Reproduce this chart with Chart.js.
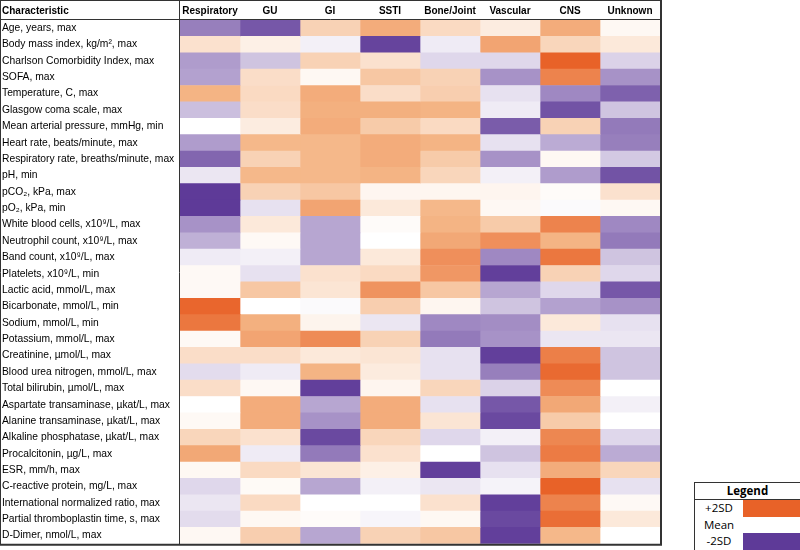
<!DOCTYPE html>
<html>
<head>
<meta charset="utf-8">
<script src="https://cdn.jsdelivr.net/npm/chart.js@4.4.1/dist/chart.umd.min.js"></script>
<style>
  body { margin: 0; background: #fff; }
  #wrap { position: relative; width: 800px; height: 550px; }
  #legendBox {
    position: absolute; left: 694px; top: 482px; width: 105px;
    border: 1px solid #333; background: #fff;
    font: 11.5px 'Open Sans', 'Liberation Sans', Arial, sans-serif; color: #000;
  }
  #legendBox .title { height: 16px; line-height: 16px; text-align: center; font-weight: bold; border-bottom: 1px solid #333; }
  #legendBox .row { display: flex; height: 16.5px; line-height: 16.5px; }
  #legendBox .lbl { width: 48px; text-align: center; }
  #legendBox .sw { flex: 1; }
</style>
</head>
<body>
<div id="wrap">
  <canvas id="heat" width="800" height="550"></canvas>
  <div id="legendBox">
    <div class="title">Legend</div>
    <div class="row"><div class="lbl">+2SD</div><div class="sw" id="swPlus"></div></div>
    <div class="row"><div class="lbl">Mean</div><div class="sw" id="swMean"></div></div>
    <div class="row"><div class="lbl">-2SD</div><div class="sw" id="swMinus"></div></div>
  </div>
</div>
<script>
const characteristics = [
  "Age, years, max",
  "Body mass index, kg/m², max",
  "Charlson Comorbidity Index, max",
  "SOFA, max",
  "Temperature, C, max",
  "Glasgow coma scale, max",
  "Mean arterial pressure, mmHg, min",
  "Heart rate, beats/minute, max",
  "Respiratory rate, breaths/minute, max",
  "pH, min",
  "pCO₂, kPa, max",
  "pO₂, kPa, min",
  "White blood cells, x10⁹/L, max",
  "Neutrophil count, x10⁹/L, max",
  "Band count, x10⁹/L, max",
  "Platelets, x10⁹/L, min",
  "Lactic acid, mmol/L, max",
  "Bicarbonate, mmol/L, min",
  "Sodium, mmol/L, min",
  "Potassium, mmol/L, max",
  "Creatinine, µmol/L, max",
  "Blood urea nitrogen, mmol/L, max",
  "Total bilirubin, µmol/L, max",
  "Aspartate transaminase, µkat/L, max",
  "Alanine transaminase, µkat/L, max",
  "Alkaline phosphatase, µkat/L, max",
  "Procalcitonin, µg/L, max",
  "ESR, mm/h, max",
  "C-reactive protein, mg/L, max",
  "International normalized ratio, max",
  "Partial thromboplastin time, s, max",
  "D-Dimer, nmol/L, max"
];

const columns = ["Respiratory", "GU", "GI", "SSTI", "Bone/Joint", "Vascular", "CNS", "Unknown"];

// deviation from mean, in SD units (-2 .. +2), one value per characteristic
const respiratory = [-1.3, 0.4, -1.0, -0.95, 1.0, -0.65, 0, -1.0, -1.55, -0.25, -2.0, -2.0, -1.1, -0.8, -0.2, 0.08,
  0.08, 1.95, 1.75, 0.08, 0.45, -0.35, 0.45, 0, 0.08, 0.55, 1.15, 0.1, -0.4, -0.25, -0.35, 0.1];
const gu = [-1.7, 0.2, -0.6, 0.45, 0.5, 0.45, 0.25, 0.95, 0.6, 0.95, 0.6, -0.3, 0.3, 0.08, -0.15, -0.3,
  0.75, 0, 1.05, 1.2, 0.45, -0.2, 0.1, 1.1, 1.1, 0.4, -0.2, 0.5, 0.07, 0.5, 0.1, 0.65];
const gi = [0.6, -0.15, 0.6, 0.1, 1.1, 1.05, 1.1, 0.95, 0.95, 0.95, 0.75, 1.2, -0.9, -0.9, -0.9, 0.4,
  0.35, -0.05, 0.15, 1.5, 0.3, 1.0, -1.95, -0.9, -1.1, -1.85, -1.35, 0.35, -0.9, 0, 0.05, -0.9];
const ssti = [1.1, -1.9, 0.4, 0.75, 0.45, 1.05, 0.7, 1.1, 1.1, 1.0, 0.12, 0.3, 0.05, 0, 0.3, 0.5,
  1.4, 0.65, -0.25, 0.6, 0.35, 0.27, 0.13, 1.1, 1.1, 0.55, 0.4, 0.2, -0.15, 0, -0.1, 0.6];
const boneJoint = [0.5, -0.2, -0.4, 0.6, 0.65, 1.0, 0.5, 1.0, 0.7, 0.55, 0.12, 0.95, 1.0, 1.15, 1.45, 1.35,
  0.75, 0.12, -1.2, -1.35, -0.3, -0.3, 0.55, -0.3, 0.35, -0.4, 0, -1.95, -0.25, 0.4, 0.1, 0.75];
const vascular = [0.25, 1.2, -0.4, -1.1, -0.3, -0.2, -1.65, -0.3, -1.1, -0.15, 0.13, 0.1, 0.7, 1.45, -1.2, -1.95,
  -0.9, -0.6, -1.15, -1.1, -1.95, -1.3, -0.45, -1.7, -1.85, -0.15, -0.6, -0.3, -0.12, -1.95, -1.85, -1.95];
const cns = [1.1, 0.55, 2.0, 1.6, -1.2, -1.75, 0.6, -0.85, 0.1, -1.0, 0.05, -0.05, 1.6, 1.0, 1.75, 0.6,
  -0.4, -0.95, 0.3, -0.25, 1.65, 1.9, 1.5, 1.15, 0.7, 1.55, 1.7, 1.1, 2.0, 1.6, 1.85, 0.95];
const unknown = [0.1, 0.3, -0.45, -1.1, -1.6, -0.6, -1.35, -1.3, -0.55, -1.75, 0.4, 0.1, -1.2, -1.35, -0.6, -0.4,
  -1.7, -1.1, -0.3, -0.25, -0.6, -0.6, 0, -0.15, 0, -0.4, -0.85, 0.55, -0.3, 0.08, 0.3, 0];

const series = [respiratory, gu, gi, ssti, boneJoint, vascular, cns, unknown];

// colour stops at 0, 1 and 2 SD
const orangeStops = [[255, 255, 255], [244, 180, 132], [232, 98, 40]];
const purpleStops = [[255, 255, 255], [175, 156, 204], [94, 58, 152]];
function sdColor(v) {
  const stops = v >= 0 ? orangeStops : purpleStops;
  const a = Math.min(Math.abs(v), 2);
  const i = a >= 1 ? 1 : 0;
  const t = a - i;
  const ch = stops[i].map((s, k) => Math.round(s + (stops[i + 1][k] - s) * t));
  return `rgb(${ch.join(',')})`;
}

document.getElementById('swPlus').style.background = sdColor(2);
document.getElementById('swMean').style.background = sdColor(0);
document.getElementById('swMinus').style.background = sdColor(-2);

Chart.defaults.font.family = "'Liberation Sans', Arial, sans-serif";
Chart.defaults.color = '#000';

// table frame + "Characteristic" header
const tableFrame = {
  id: 'tableFrame',
  afterDraw(chart) {
    const { ctx, chartArea } = chart;
    ctx.save();
    ctx.strokeStyle = '#333';
    ctx.lineWidth = 1;
    ctx.beginPath();
    ctx.moveTo(0.5, 0.5); ctx.lineTo(chartArea.right + 0.5, 0.5);
    ctx.moveTo(0.5, chartArea.top - 0.5); ctx.lineTo(chartArea.right + 0.5, chartArea.top - 0.5);
    ctx.moveTo(0.5, 0); ctx.lineTo(0.5, chartArea.bottom + 1);
    ctx.moveTo(chartArea.left - 0.5, 0); ctx.lineTo(chartArea.left - 0.5, chartArea.bottom + 1);
    ctx.stroke();
    ctx.lineWidth = 2;
    ctx.beginPath();
    ctx.moveTo(chartArea.right + 1, 0); ctx.lineTo(chartArea.right + 1, chartArea.bottom + 2);
    ctx.moveTo(0, chartArea.bottom + 1); ctx.lineTo(chartArea.right + 2, chartArea.bottom + 1);
    ctx.stroke();
    ctx.fillStyle = '#000';
    ctx.font = "bold 10px 'Liberation Sans', Arial, sans-serif";
    ctx.textBaseline = 'middle';
    ctx.fillText('Characteristic', 2, chartArea.top / 2 + 1);
    ctx.restore();
  }
};

new Chart(document.getElementById('heat'), {
  type: 'bar',
  data: {
    labels: characteristics,
    datasets: columns.map((name, c) => ({
      label: name,
      data: characteristics.map(() => 1),
      sd: series[c],
      backgroundColor: series[c].map(sdColor),
      borderWidth: 0,
      barPercentage: 1,
      categoryPercentage: 1
    }))
  },
  options: {
    indexAxis: 'y',
    responsive: false,
    animation: false,
    layout: { padding: { left: 2, top: 0, right: 140, bottom: 2 } },
    plugins: {
      legend: { display: false },
      tooltip: {
        callbacks: {
          label: (context) => `${context.dataset.label}: ${context.dataset.sd[context.dataIndex]} SD`
        }
      }
    },
    scales: {
      x: {
        type: 'linear',
        position: 'top',
        stacked: true,
        min: 0,
        max: columns.length,
        grid: { display: false, drawTicks: false },
        border: { display: false },
        afterBuildTicks: (scale) => {
          scale.ticks = columns.map((_, i) => ({ value: i + 0.5 }));
        },
        afterFit: (scale) => { scale.height = 20; },
        ticks: {
          autoSkip: false,
          maxRotation: 0,
          padding: 3,
          font: { size: 10, weight: 'bold' },
          callback: (value, index) => columns[index]
        }
      },
      y: {
        stacked: true,
        grid: { display: false, drawTicks: false },
        border: { display: false },
        afterFit: (scale) => { scale.width = 178; },
        ticks: {
          autoSkip: false,
          crossAlign: 'far',
          padding: 0,
          font: { size: 10.3 }
        }
      }
    }
  },
  plugins: [tableFrame]
});
</script>
</body>
</html>
